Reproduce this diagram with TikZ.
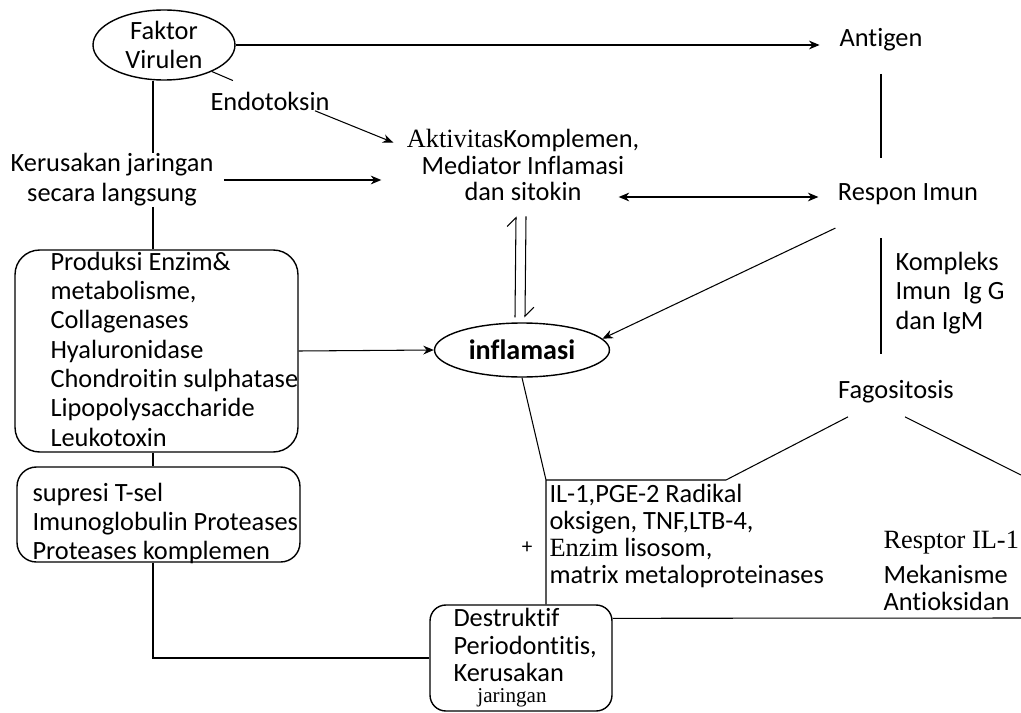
\documentclass[tikz,border=0pt]{standalone}
\usepackage{fontspec}
\setmainfont{Carlito}[Ligatures=NoCommon]
\newfontfamily\serifa{Liberation Serif}
\usetikzlibrary{positioning,calc,arrows.meta,shapes.geometric}
\tikzset{>={Stealth[length=6pt,width=5pt]}}
\tikzset{
  txt/.style={inner sep=0pt,font=\fontsize{15}{16.5}\selectfont},
  oval/.style={draw,ellipse,inner sep=0pt,line width=.8pt},
  rbox/.style={draw,line width=.8pt,inner sep=0pt},
  harp/.style={-{Straight Barb[harpoon,length=5pt]}}
}
\newcommand*{\sr}[1]{{\serifa #1}}

\begin{document}
\begin{tikzpicture}[x=0.02cm,y=-0.02cm,line width=.6pt]
\useasboundingbox (0,0) rectangle (1021,713);
\coordinate (spine) at (153,0);
\coordinate (knee) at (546,480);
\coordinate (redge) at (1021,475);
\coordinate (bedge) at (1021,618);

% top row
\node[oval,txt,align=center,minimum width=2.84cm,minimum height=1.4cm] (faktor) at (164,45) {Faktor\\Virulen};
\node[txt] (antigen) at (881,40) {Antigen};
\node[txt] (endo) at (270,101) {Endotoksin};
\node[txt,align=center,font=\fontsize{15}{17}\selectfont] (kerus) at (112,180) {Kerusakan jaringan\\secara langsung};
\node[txt,align=center,font=\fontsize{15}{15.2}\selectfont] (aktiv) at (523,165) {\sr{Aktivitas}Komplemen,\\Mediator Inflamasi\\dan sitokin};
\node[txt] (respon) at (908,194) {Respon Imun};
\node[txt,anchor=west,align=left,font=\fontsize{15}{16.8}\selectfont] (kompleks) at (895,293) {Kompleks\\Imun\ \ Ig G\\dan IgM};
\node[txt] (fago) at (896,392) {Fagositosis};

% boxes
\node[rbox,rounded corners=14pt,minimum width=5.66cm,minimum height=4.04cm] (prod) at (156.5,351) {};
\node[txt,anchor=west,align=left,font=\fontsize{15}{16.7}\selectfont] (prodtxt) at (50,349) {Produksi Enzim\&\\metabolisme,\\Collagenases\\Hyaluronidase\\Chondroitin sulphatase\\Lipopolysaccharide\\Leukotoxin};
\node[rbox,rounded corners=11pt,minimum width=5.66cm,minimum height=1.9cm] (supr) at (158.5,514.5) {};
\node[txt,anchor=west,align=left] (suprtxt) at (32,523) {supresi T-sel\\Imunoglobulin Proteases\\Proteases komplemen};
\node[oval,minimum width=3.5cm,minimum height=1.08cm,font=\bfseries\fontsize{16}{16}\selectfont] (infl) at (522,350) {inflamasi};
\node[txt,anchor=west,align=left,font=\fontsize{15}{15.5}\selectfont] (iltxt) at (549,536) {IL-1,PGE-2 Radikal\\oksigen, TNF,LTB-4,\\\sr{Enzim} lisosom,\\matrix metaloproteinases};
\node[txt,font=\fontsize{12}{12}\selectfont] (plus) at (527,548) {+};
\node[rbox,rounded corners=9pt,minimum width=3.64cm,minimum height=2.12cm] (destr) at (521,658) {};
\node[txt,anchor=west,align=left,font=\fontsize{15}{15.5}\selectfont] (destrtxt) at (453,645) {Destruktif\\Periodontitis,\\Kerusakan};
\node[txt,font=\serifa\fontsize{12}{12}\selectfont] (jar) at (512,698) {jaringan};
\node[txt,anchor=west,font=\serifa\fontsize{15}{16}\selectfont] (resptor) at (883,543) {Resptor IL-1};
\node[txt,anchor=west,align=left,font=\fontsize{15}{15.3}\selectfont] (mekan) at (883,588) {Mekanisme\\Antioksidan};

% connectors
\draw[->,shorten >=0.39cm] (faktor.east) -- (faktor.east -| antigen.west);
\draw[shorten <=0.44cm,shorten >=0.5cm] (antigen.south) -- (antigen.south |- respon.north);
\draw[shorten <=0.66cm,shorten >=0.52cm] (antigen.south |- respon.south) -- (antigen.south |- fago.north);
\draw[<->] ($(aktiv.east |- respon.west)+(-21,3)$) -- ($(respon.west)+(-19,3)$);
\draw (faktor.-29) -- ++(21,9);
\draw[->] ($(endo.south east)+(-15,0)$) -- ($(aktiv.north west)+(-13,14)$);
\draw[->,shorten <=0.2cm,shorten >=0.5cm] (kerus.east) -- (kerus.east -| aktiv.west);
\draw (spine |- faktor.south) -- (spine |- kerus.north);
\draw (spine |- kerus.south) -- (spine |- prod.north);
\draw (spine |- prod.south) -- (spine |- supr.north);
\draw (spine |- supr.south) |- (destr.west);
\draw[->] (prod.east) -- (infl.west);
\draw[->] ($(respon.south west)+(-2,23)$) -- (infl.8);
\draw[harp] ($(infl.north)+(-7,-5)$) -- ($(aktiv.south)+(-7,15)$);
\draw[harp] ($(aktiv.south)+(3,15)$) -- ($(infl.north)+(3,-5)$);
\draw (infl.south) -- (knee) -- (knee |- destr.north);
\draw (knee) -- ($(knee)+(180,0)$) -- ($(fago.south)+(-48,13)$);
\draw ($(fago.south)+(9,13)$) -- (redge);
\draw ($(destr.north east)+(0,14)$) -- (bedge);
\end{tikzpicture}
\end{document}
